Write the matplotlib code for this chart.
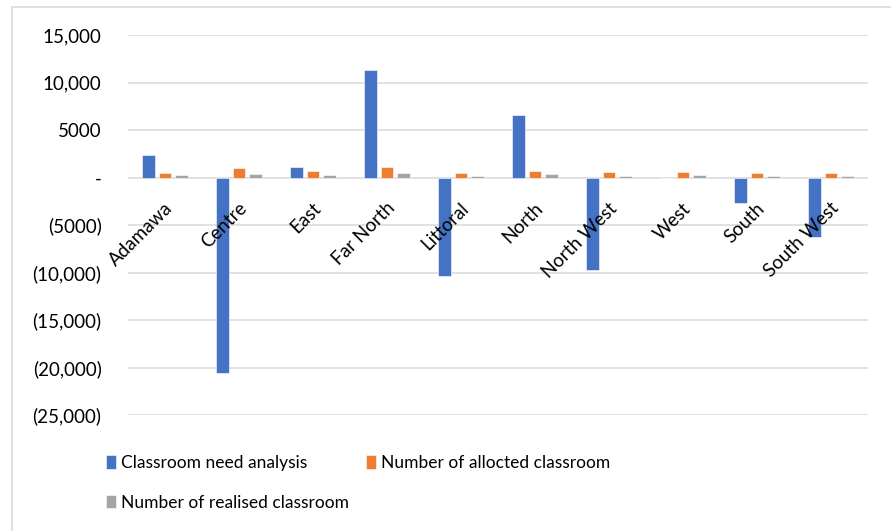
import matplotlib.pyplot as plt
import numpy as np
from matplotlib.lines import Line2D
from matplotlib.ticker import FuncFormatter
from matplotlib.transforms import ScaledTranslation

regions = ['Adamawa', 'Centre', 'East', 'Far North', 'Littoral', 'North',
           'North West', 'West', 'South', 'South West']
need_analysis = [2420, -20600, 1120, 11300, -10400, 6560, -9700, 0, -2700, -6280]
allocated = [520, 1020, 700, 1120, 520, 700, 600, 630, 490, 490]
realised = [250, 390, 230, 490, 200, 350, 200, 280, 200, 140]

plt.rcParams['font.family'] = ['Lato', 'DejaVu Sans']

x = np.arange(len(regions))
width = 0.17
step = 0.22

fig = plt.figure(figsize=(8.91, 5.31), dpi=100)
ax = fig.add_axes([128/891, 1 - 415/531, 740/891, 380/531])

b1 = ax.bar(x - step, need_analysis, width, color='#4472C4', edgecolor='white', linewidth=0.4,
            label='Classroom need analysis', zorder=3)
b2 = ax.bar(x, allocated, width, color='#ED7D31', edgecolor='white', linewidth=0.4,
            label='Number of allocted classroom', zorder=3)
b3 = ax.bar(x + step, realised, width, color='#A5A5A5', edgecolor='white', linewidth=0.4,
            label='Number of realised classroom', zorder=3)

ax.set_xlim(-0.5, len(regions) - 0.5)
ax.set_ylim(-25000, 15000)
ax.set_yticks(np.arange(-25000, 15001, 5000))


def fmt(v, pos):
    v = int(round(v))
    if v == 0:
        return '-'
    s = f"{abs(v):,}" if abs(v) >= 10000 else str(abs(v))
    return f"({s})" if v < 0 else s


ax.yaxis.set_major_formatter(FuncFormatter(fmt))
ax.grid(axis='y', color='#D9D9D9', linewidth=1.1, zorder=0)
for s in ['top', 'left', 'right', 'bottom']:
    ax.spines[s].set_visible(False)
ax.tick_params(axis='y', length=0, pad=19, labelsize=13.5)
ax.set_xticks([])

# category labels sit just under the zero line and are drawn over the bars
off = ScaledTranslation(5/100, -28/100, fig.dpi_scale_trans)
for i, name in enumerate(regions):
    ax.text(i, 0, name, transform=ax.transData + off, rotation=45,
            ha='right', va='center', rotation_mode='anchor', fontsize=13.5, zorder=5)

leg = fig.legend([b1, b3, b2],
                 ['Classroom need analysis', 'Number of realised classroom', 'Number of allocted classroom'],
                 ncol=2, loc='upper left', bbox_to_anchor=(94/891, 1 - 443/531), frameon=False,
                 prop={'size': 12.5},
                 handlelength=0.55, handleheight=0.8, handletextpad=0.3,
                 columnspacing=1.0, labelspacing=1.35, borderpad=0.2)

# light frame of the chart area
fig.add_artist(Line2D([12/891, 12/891], [0, 1 - 7/531], color='#D9D9D9', linewidth=1.2))
fig.add_artist(Line2D([12/891, 1], [1 - 7/531, 1 - 7/531], color='#D9D9D9', linewidth=1.2))

plt.savefig('out.png', dpi=100)
